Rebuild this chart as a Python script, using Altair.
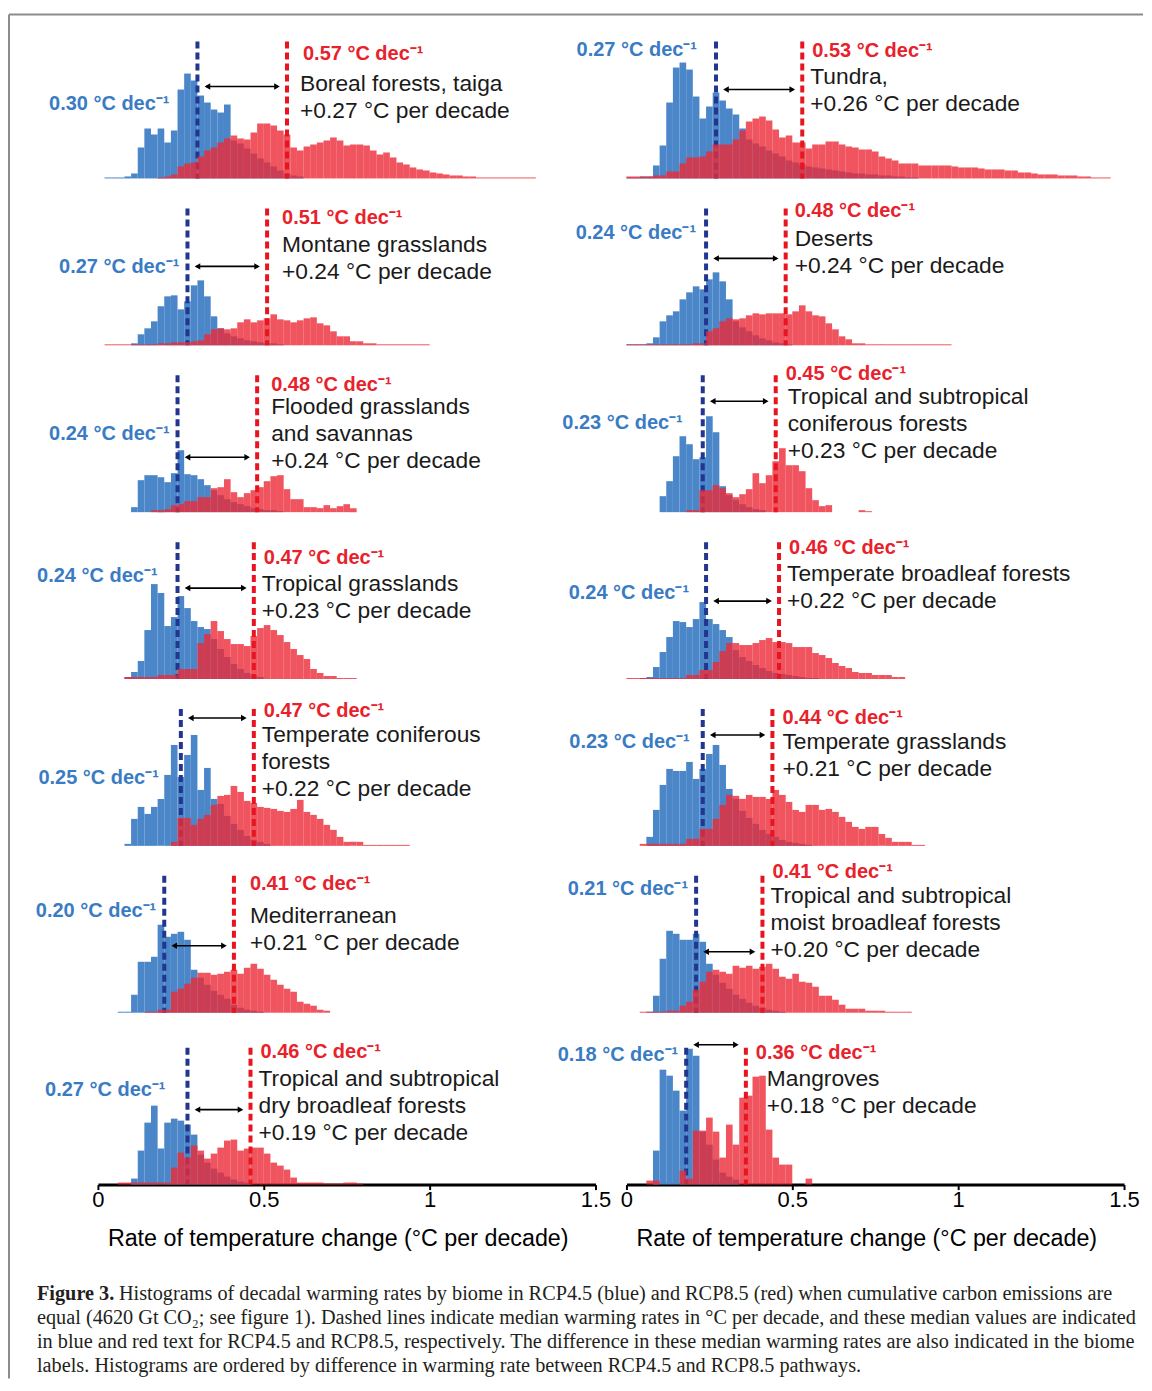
import altair as alt
import pandas as pd

BIN = 0.02
SANS = "Liberation Sans"
SERIF = "Liberation Serif"

# ---------------- histogram heights (relative counts), bins of 0.02 ----------------
boreal_blue_start = 0.02
boreal_blue = [1, 1, 1, 2, 5, 31, 50, 44, 50, 36, 48, 89, 105, 98, 83, 76, 69, 66, 74, 38,
               35, 30, 25, 20, 16, 12, 8, 5, 3, 2]
boreal_red_start = 0.18
boreal_red = [1, 2, 4, 12, 15, 16, 22, 28, 31, 36, 40, 43, 40, 39, 46, 55, 55, 53, 48, 44,
              31, 28, 32, 34, 36, 38, 41, 38, 33, 34, 34, 33, 28, 24, 26, 21, 16, 14, 11, 9,
              8, 6, 5, 4, 3, 3, 2, 2, 1, 1, 1, 1, 1, 1, 1, 1, 1]

tundra_blue_start = 0.00
tundra_blue = [1, 1, 2, 2, 13, 33, 76, 111, 116, 109, 82, 60, 72, 86, 78, 70, 64, 50, 39, 35,
               32, 28, 25, 22, 18, 16, 14, 12, 11, 10, 9, 8, 7, 6, 5, 5, 4, 4, 3, 3, 2, 2, 1, 1]
tundra_red_start = 0.00
tundra_red = [2, 2, 2, 2, 3, 3, 7, 7, 15, 21, 21, 22, 27, 34, 34, 34, 39, 48, 57, 60,
              62, 58, 49, 41, 43, 36, 36, 30, 34, 34, 37, 37, 34, 32, 31, 29, 29, 27, 22, 20,
              18, 15, 15, 15, 13, 13, 13, 13, 13, 12, 11, 11, 11, 10, 9, 9, 9, 8, 8, 6,
              6, 5, 4, 4, 4, 3, 3, 3, 2, 2, 1, 1, 1]

montane_blue_start = 0.10
montane_blue = [2, 11, 17, 24, 39, 49, 50, 36, 44, 60, 65, 49, 29, 17, 12, 9, 7, 5, 4, 3, 2, 2, 1]
montane_red_start = 0.02
montane_red = [1, 1, 1, 1, 1, 1, 1, 1, 2, 2, 3, 3, 3, 4, 5, 11, 16, 17, 16, 17,
               23, 26, 23, 25, 27, 31, 26, 25, 23, 25, 27, 28, 22, 20, 14, 9, 9, 4, 4, 2,
               2, 1, 1, 1, 1, 1, 1, 1, 1]

deserts_blue_start = 0.00
deserts_blue = [1, 1, 1, 2, 8, 24, 30, 34, 46, 53, 59, 56, 66, 73, 64, 46, 24, 18, 14, 10, 7, 5, 3, 2, 1]
deserts_red_start = 0.00
deserts_red = [1, 1, 1, 1, 1, 1, 1, 1, 1, 1, 2, 2, 14, 17, 24, 27, 26, 27, 30, 32,
               31, 32, 32, 32, 31, 34, 40, 34, 30, 29, 22, 16, 9, 6, 2, 2, 1, 1, 1, 1,
               1, 1, 1, 1, 1, 1, 1, 1, 1]

flooded_blue_start = 0.10
flooded_blue = [5, 32, 37, 37, 35, 30, 39, 62, 38, 37, 33, 27, 22, 17, 13, 10, 8, 6, 4, 3, 2, 2, 1]
flooded_red_start = 0.16
flooded_red = [2, 2, 3, 7, 8, 11, 11, 15, 15, 24, 25, 33, 20, 15, 19, 22, 25, 31, 36, 37,
               23, 13, 13, 5, 5, 4, 7, 4, 6, 8, 4]

tropconif_blue_start = 0.10
tropconif_blue = [16, 31, 56, 76, 68, 53, 55, 96, 80, 26, 17, 12, 8, 5, 3, 2]
tropconif_red_start = 0.18
tropconif_red = [2, 2, 22, 22, 27, 24, 19, 15, 18, 23, 39, 29, 37, 51, 64, 47, 47, 41, 24, 12,
                 6, 7, 0, 0, 0, 0, 2, 1]

tropgrass_blue_start = 0.08
tropgrass_blue = [2, 7, 18, 49, 95, 86, 53, 62, 83, 71, 58, 52, 50, 40, 30, 22, 15, 10, 6, 4, 2]
tropgrass_red_start = 0.08
tropgrass_red = [2, 2, 2, 2, 2, 4, 4, 4, 10, 10, 10, 36, 45, 58, 48, 40, 35, 35, 33, 43,
                 51, 54, 49, 44, 37, 30, 24, 20, 10, 6, 3, 3, 1, 1, 1]

tempbroad_blue_start = 0.04
tempbroad_blue = [1, 2, 12, 27, 42, 58, 57, 52, 60, 77, 60, 55, 49, 42, 29, 22, 18, 14, 11, 8,
                  6, 5, 4, 3, 2, 1, 1]
tempbroad_red_start = 0.00
tempbroad_red = [1, 1, 1, 1, 1, 1, 1, 1, 1, 4, 4, 9, 9, 17, 28, 36, 36, 34, 34, 36,
                 39, 41, 37, 37, 36, 32, 32, 32, 26, 24, 21, 16, 13, 11, 7, 6, 6, 4, 4, 4, 2, 2]

tempconif_blue_start = 0.08
tempconif_blue = [2, 27, 39, 32, 39, 47, 71, 101, 69, 91, 111, 56, 78, 47, 42, 30, 22, 16, 10, 6, 4, 2]
tempconif_red_start = 0.22
tempconif_red = [4, 28, 28, 21, 27, 31, 41, 50, 51, 60, 54, 45, 43, 39, 38, 37, 35, 34, 37, 46,
                 34, 31, 27, 21, 16, 9, 4, 4, 4, 1, 1, 1, 1, 1, 1, 1]

tempgrass_blue_start = 0.06
tempgrass_blue = [9, 36, 61, 77, 75, 75, 84, 67, 77, 92, 101, 81, 57, 47, 35, 28, 22, 16, 12, 9,
                  6, 4, 3, 2, 1]
tempgrass_red_start = 0.04
tempgrass_red = [2, 2, 2, 2, 2, 2, 2, 7, 7, 17, 17, 27, 41, 51, 50, 47, 51, 49, 49, 47,
                 56, 51, 44, 36, 34, 41, 41, 36, 37, 34, 29, 24, 19, 17, 19, 19, 12, 8, 4, 4,
                 4, 1, 1]

medit_blue_start = 0.06
medit_blue = [1, 1, 18, 51, 51, 56, 88, 76, 79, 81, 73, 43, 35, 28, 22, 18, 14, 8, 5, 3, 2, 1]
medit_red_start = 0.14
medit_red = [1, 1, 3, 3, 21, 24, 29, 35, 40, 40, 38, 39, 41, 43, 39, 45, 49, 44, 38, 33,
             28, 24, 21, 11, 9, 7, 3, 2]

moist_blue_start = 0.06
moist_blue = [1, 17, 54, 82, 79, 73, 73, 79, 71, 49, 38, 30, 24, 18, 14, 10, 7, 5, 3, 2, 1]
moist_red_start = 0.04
moist_red = [1, 1, 1, 1, 2, 2, 7, 11, 23, 31, 41, 43, 41, 39, 47, 45, 47, 44, 46, 49,
             44, 36, 34, 39, 31, 30, 26, 17, 17, 13, 8, 4, 4, 4, 2, 2, 2, 1, 1, 1, 1]

drybroad_blue_start = 0.10
drybroad_blue = [6, 34, 62, 79, 36, 62, 66, 64, 60, 50, 30, 22, 16, 12, 8, 5, 3, 2]
drybroad_red_start = 0.06
drybroad_red = [2, 2, 2, 2, 2, 2, 2, 2, 17, 32, 27, 39, 34, 26, 31, 37, 44, 45, 34, 36,
                37, 37, 31, 22, 19, 15, 7, 2, 2, 2, 2, 1, 1, 1, 2, 2, 1]

mangrove_blue_start = 0.08
mangrove_blue = [34, 115, 109, 94, 74, 136, 129, 53, 40, 25, 12, 8, 5]
mangrove_red_start = 0.06
mangrove_red = [4, 4, 0, 0, 0, 14, 6, 54, 54, 67, 53, 27, 60, 40, 87, 89, 108, 109, 55, 27,
                20, 20, 0, 0, 6]

# ---------------- medians, differences and names (left column then right column) ----------------
biome_keys = ["boreal", "montane", "flooded", "tropgrass", "tempconif", "medit", "drybroad",
              "tundra", "deserts", "tropconif", "tempbroad", "tempgrass", "moist", "mangrove"]
median_rcp45 = [0.30, 0.27, 0.24, 0.24, 0.25, 0.20, 0.27,
                0.27, 0.24, 0.23, 0.24, 0.23, 0.21, 0.18]
median_rcp85 = [0.57, 0.51, 0.48, 0.47, 0.47, 0.41, 0.46,
                0.53, 0.48, 0.45, 0.46, 0.44, 0.41, 0.36]
median_diff = [0.27, 0.24, 0.24, 0.23, 0.22, 0.21, 0.19,
               0.26, 0.24, 0.23, 0.22, 0.21, 0.20, 0.18]
biome_names = [
    ["Boreal forests, taiga"],
    ["Montane grasslands"],
    ["Flooded grasslands", "\u00a0and savannas"],
    ["Tropical grasslands"],
    ["Temperate coniferous", "forests"],
    ["Mediterranean"],
    ["Tropical and subtropical", "dry broadleaf forests"],
    ["Tundra,"],
    ["Deserts"],
    ["Tropical and subtropical", "coniferous forests"],
    ["Temperate broadleaf forests"],
    ["Temperate grasslands"],
    ["Tropical and subtropical", "moist broadleaf forests"],
    ["Mangroves"],
]

# ---------------- annotation layout (pixels above baseline / pixel offsets) ----------------
# b_up, b_dx, r_up, r_dx, n_up, n_dx, a_up
LAYOUT = {
    "boreal":    (75, -28, 125, 16, 95, 13, 92),
    "montane":   (78, -8, 127, 15, 100, 15, 79),
    "flooded":   (78, -8, 127, 14, 105, 14, 55),
    "tropgrass": (103, -20, 121, 10, 95, 8, 91),
    "tempconif": (68, -22, 135, 10, 111, 8, 128),
    "medit":     (102, -8, 129, 16, 97, 16, 67),
    "drybroad":  (95, -22, 133, 10, 106, 8, 75),
    "tundra":    (129, -19, 128, 10, 102, 8, 89),
    "deserts":   (112, -10, 134, 9, 106, 9, 87),
    "tropconif": (89, -20, 138, 10, 115, 12, 111),
    "tempbroad": (86, -17, 131, 10, 105, 8, 78),
    "tempgrass": (104, -13, 128, 10, 104, 10, 111),
    "moist":     (124, -8, 141, 10, 117, 8, 61),
    "mangrove":  (130, -8, 132, 10, 106, 21, 140),
}
ROW_H = [163, 167, 167, 167, 167, 167, 172]
PANEL_W = 498
DASH_TOP = 137
LINE_GAP = 27

BLUE_FILL = "#4a86c8"
RED_FILL = "#ec2b37"
BLUE_LINE = "#22368f"
RED_LINE = "#e8141f"
BLUE_TXT = "#3a7cc4"
RED_TXT = "#e8212b"
XTITLE = "Rate of temperature change (°C per decade)"

HIST = {k: (globals()[k + "_blue_start"], globals()[k + "_blue"],
            globals()[k + "_red_start"], globals()[k + "_red"]) for k in biome_keys}


def hist_df(start, heights):
    n = len(heights)
    return pd.DataFrame({
        "x0": [round(start + i * BIN, 4) for i in range(n)],
        "x1": [round(start + (i + 1) * BIN, 4) for i in range(n)],
        "h": heights,
        "z": [0] * n,
    })


AXIS = alt.Axis(values=[0, 0.5, 1, 1.5], format="~g", grid=False,
                domainColor="black", domainWidth=3, tickColor="black", tickWidth=2,
                tickSize=5, labelFont=SANS, labelFontSize=22, labelColor="black",
                labelPadding=0, labelFlush=False, labelOverlap=False,
                titleFont=SANS, titleFontSize=23.3, titleFontWeight="normal",
                titleColor="black", titlePadding=17, titleX=240)


def make_panel(idx, H, bottom, frame=False):
    key = biome_keys[idx]
    bs, bh, rs, rh = HIST[key]
    mb, mr, d = median_rcp45[idx], median_rcp85[idx], median_diff[idx]
    b_up, b_dx, r_up, r_dx, n_up, n_dx, a_up = LAYOUT[key]

    xs = alt.Scale(domain=[0, 1.5], nice=False, zero=False)
    ys = alt.Scale(domain=[0, H], nice=False, zero=False)
    kw = dict(axis=AXIS, title=XTITLE) if bottom else dict(axis=None)

    def X(f):
        return alt.X(f, type="quantitative", scale=xs, **kw)

    def Y(f):
        return alt.Y(f, type="quantitative", scale=ys, axis=None)

    layers = []
    layers.append(alt.Chart(hist_df(bs, bh)).mark_rect(color=BLUE_FILL, strokeWidth=0).encode(
        x=X("x0"), x2="x1", y=Y("h"), y2="z"))
    layers.append(alt.Chart(pd.DataFrame({"x": [mb], "top": [DASH_TOP], "z": [0]})).mark_rule(
        color=BLUE_LINE, strokeWidth=4, strokeDash=[7, 4]).encode(x=X("x"), y=Y("top"), y2="z"))
    layers.append(alt.Chart(hist_df(rs, rh)).mark_rect(color=RED_FILL, opacity=0.8, strokeWidth=0).encode(
        x=X("x0"), x2="x1", y=Y("h"), y2="z"))
    layers.append(alt.Chart(pd.DataFrame({"x": [mr], "top": [DASH_TOP], "z": [0]})).mark_rule(
        color=RED_LINE, strokeWidth=4, strokeDash=[7, 4]).encode(x=X("x"), y=Y("top"), y2="z"))

    arrow = pd.DataFrame({"xb": [mb], "xr": [mr], "a": [a_up]})
    layers.append(alt.Chart(arrow).mark_rule(color="black", strokeWidth=1.6, xOffset=9, x2Offset=-9).encode(
        x=X("xb"), x2="xr", y=Y("a")))
    layers.append(alt.Chart(arrow).mark_point(shape="triangle-left", filled=True, size=42, color="black",
                                              opacity=1, xOffset=10).encode(x=X("xb"), y=Y("a")))
    layers.append(alt.Chart(arrow).mark_point(shape="triangle-right", filled=True, size=42, color="black",
                                              opacity=1, xOffset=-10).encode(x=X("xr"), y=Y("a")))

    layers.append(alt.Chart(pd.DataFrame({"x": [mb], "up": [b_up], "t": [f"{mb:.2f} °C dec⁻¹"]})).mark_text(
        align="right", baseline="middle", dx=b_dx, font=SANS, fontSize=20, fontWeight="bold",
        color=BLUE_TXT).encode(x=X("x"), y=Y("up"), text="t"))
    layers.append(alt.Chart(pd.DataFrame({"x": [mr], "up": [r_up], "t": [f"{mr:.2f} °C dec⁻¹"]})).mark_text(
        align="left", baseline="middle", dx=r_dx, font=SANS, fontSize=20, fontWeight="bold",
        color=RED_TXT).encode(x=X("x"), y=Y("up"), text="t"))

    lines = biome_names[idx] + [f"+{d:.2f} °C per decade"]
    ndf = pd.DataFrame({"x": [mr] * len(lines),
                        "up": [n_up - LINE_GAP * i for i in range(len(lines))],
                        "t": lines})
    layers.append(alt.Chart(ndf).mark_text(
        align="left", baseline="middle", dx=n_dx, font=SANS, fontSize=22.8, color="#1a1a1a").encode(
        x=X("x"), y=Y("up"), text="t"))

    if frame:
        one = pd.DataFrame({"k": [0]})
        layers.append(alt.Chart(one).mark_rule(color="#8c8c8c", strokeWidth=2).encode(
            x=alt.value(-89), x2=alt.value(1046), y=alt.value(-1)))
        layers.append(alt.Chart(one).mark_rule(color="#8c8c8c", strokeWidth=2).encode(
            x=alt.value(-89), y=alt.value(-1), y2=alt.value(1364)))

    return alt.layer(*layers).properties(width=PANEL_W, height=H)


# ---------------- caption (occupies the cell under the left column) ----------------
caption_lines = [
    "Histograms of decadal warming rates by biome in RCP4.5 (blue) and RCP8.5 (red) when cumulative carbon emissions are",
    "equal (4620 Gt CO₂; see figure 1). Dashed lines indicate median warming rates in °C per decade, and these median values are indicated",
    "in blue and red text for RCP4.5 and RCP8.5, respectively. The difference in these median warming rates are also indicated in the biome",
    "labels. Histograms are ordered by difference in warming rate between RCP4.5 and RCP8.5 pathways.",
]
cap_df = pd.DataFrame({"i": [0, 1, 2, 3], "t": caption_lines})
cy = alt.Y("i:Q", axis=None, scale=alt.Scale(domain=[0, 3], range=[110, 182], nice=False, zero=False))
cap_style = dict(align="left", baseline="middle", font=SERIF, fontSize=20.3, color="#231f20")
cap_first = alt.Chart(cap_df[cap_df.i == 0]).mark_text(**cap_style).encode(
    x=alt.value(21), y=cy, text="t")
cap_rest = alt.Chart(cap_df[cap_df.i > 0]).mark_text(**cap_style).encode(
    x=alt.value(-61), y=cy, text="t")
cap_bold = alt.Chart(pd.DataFrame({"i": [0], "t": ["Figure 3."]})).mark_text(
    fontWeight="bold", **cap_style).encode(x=alt.value(-61), y=cy, text="t")
caption = alt.layer(cap_bold, cap_first, cap_rest).properties(width=PANEL_W, height=190)

cells = []
for r in range(7):
    cells.append(make_panel(r, ROW_H[r], r == 6, frame=(r == 0)))
    cells.append(make_panel(7 + r, ROW_H[r], r == 6))
cells.append(caption)

chart = alt.concat(*cells, columns=2, spacing={"row": 0, "column": 31}, bounds="flush").properties(
    padding={"left": 0, "top": 5, "right": 0, "bottom": 0},
    background="white",
).configure_view(stroke=None)

chart.save("out.html", embed_options={"renderer": "svg", "actions": False})
